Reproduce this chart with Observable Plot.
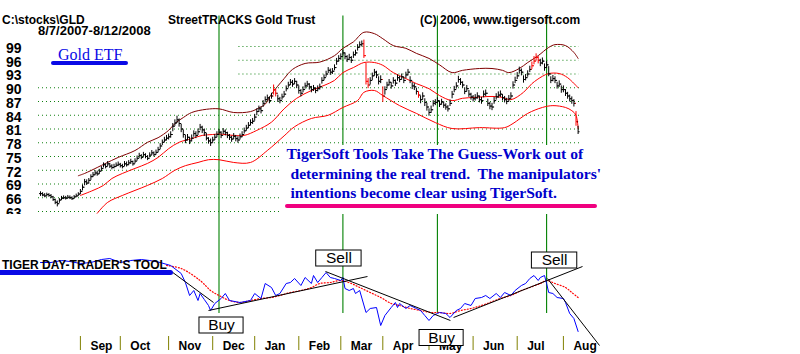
<!DOCTYPE html>
<html><head><meta charset="utf-8">
<script src="https://cdn.jsdelivr.net/npm/d3@7"></script>
<script src="https://cdn.jsdelivr.net/npm/@observablehq/plot@0.6"></script>
<style>
body{margin:0;background:#fff;}
#wrap{position:relative;width:800px;height:354px;overflow:hidden;background:#fff;}
#wrap svg{position:absolute;left:0;top:0;}
.t{position:absolute;white-space:pre;line-height:1;margin:0;}
.sans{font-family:"Liberation Sans",Arial,sans-serif;font-weight:bold;color:#000;font-size:12px;}
.serif{font-family:"Liberation Serif","Times New Roman",serif;}
.box{position:absolute;}
</style></head><body><div id="wrap"></div>
<script>
// ---------- DATA ----------
// trading-day index 0 = 8/7/2007 ... 256 = 8/12/2008
const monthStart = [19,38,61,82,102,123,143,163,185,206,227,249];
const monthNames = ["Sep","Oct","Nov","Dec","Jan","Feb","Mar","Apr","May","Jun","Jul","Aug"];
const yTicks = [63,66,69,72,75,78,81,84,87,90,93,96,99];
const gridPartialRows = [93,96,99];
const signalDays = [85,144,189,241];

const closeByMonth = [
 [66.9,66.6,66.4,66.7,66.5,66.2,65.6,65.0,64.7,65.5,65.9,66.0,65.9,66.1,66.0,65.8,66.2,66.4,66.8],
 [67.4,68.3,69.5,69.2,69.8,70.6,71.0,71.4,71.2,71.8,72.4,73.2,72.8,73.4,72.9,72.6,72.8,73.1,73.3],
 [73.0,72.8,73.4,73.2,73.6,73.9,73.4,74.0,74.6,75.2,74.8,75.4,75.0,74.6,75.3,75.8,75.4,75.9,76.5,77.3,78.1,78.6,79.0],
 [79.3,79.8,81.6,82.3,83.0,82.2,81.0,79.8,78.6,79.2,78.4,79.0,80.0,79.6,80.4,81.4,80.8,80.2,79.0,78.4,78.0],
 [78.6,79.2,79.8,80.3,79.6,80.5,80.2,79.6,79.2,78.8,79.4,78.9,78.6,79.3,79.8,80.6,81.2,81.8,82.4,82.7],
 [83.6,84.8,85.4,85.0,86.6,87.4,87.8,87.2,88.2,89.6,88.8,87.6,87.2,88.0,88.6,89.8,90.6,91.2,90.8,91.4,90.6],
 [89.4,88.8,89.6,90.4,90.8,90.2,89.6,89.9,89.4,89.8,90.2,91.6,92.2,93.0,93.8,93.4,93.6,94.4,95.8,96.4],
 [96.8,97.6,96.8,96.2,96.6,96.0,97.2,97.6,98.8,99.4,99.6,97.0,91.4,90.6,91.6,92.6,93.4,92.8,91.4,91.8],
 [88.2,89.6,90.6,91.2,90.4,91.6,91.0,92.2,91.8,92.4,91.6,92.8,93.4,91.6,90.4,90.2,89.2,88.4,87.4,88.2,86.8,85.8],
 [84.6,85.2,86.6,86.8,87.2,86.4,86.9,86.2,85.8,85.4,86.6,88.6,89.6,90.4,91.8,91.2,90.6,89.2,89.8,88.6,88.0],
 [87.6,87.8,88.2,87.4,87.2,88.6,88.8,86.6,86.0,85.8,87.2,88.0,88.4,88.6,87.8,87.4,87.0,87.6,88.2,90.6,91.6],
 [92.6,93.8,93.4,91.8,92.2,93.0,94.0,94.8,95.8,96.6,96.0,95.4,95.8,94.4,95.0,93.0,91.6,92.0,91.6,90.4,90.8,89.6],
 [89.6,88.8,88.2,87.6,87.2,86.6,82.6,80.4]
];
const highByMonth = [
 [67.3,67.1,66.9,67.0,66.9,66.7,66.3,65.7,65.3,65.8,66.3,66.4,66.3,66.5,66.4,66.2,66.5,66.8,67.1],
 [67.8,68.8,70.0,69.9,70.2,71.0,71.5,71.9,71.8,72.2,72.8,73.6,73.4,73.9,73.5,73.2,73.3,73.6,73.8],
 [73.5,73.3,73.9,73.8,74.1,74.4,74.0,74.5,75.1,75.7,75.4,75.9,75.6,75.2,75.8,76.3,76.0,76.4,77.0,77.8,78.6,79.2,79.6],
 [79.9,80.4,82.2,83.0,83.8,83.2,82.0,80.8,79.6,79.8,79.2,79.7,80.6,80.4,81.0,82.0,81.6,81.0,80.0,79.1,78.8],
 [79.2,79.8,80.4,80.9,80.4,81.1,80.8,80.3,79.8,79.4,80.0,79.6,79.3,79.9,80.4,81.2,81.8,82.4,83.0,83.3],
 [84.2,85.4,86.0,85.8,87.2,88.0,88.4,88.0,88.8,90.6,89.6,88.4,87.9,88.6,89.2,90.4,91.2,91.8,91.6,92.0,91.4],
 [90.4,89.6,90.2,91.0,91.4,90.9,90.3,90.5,90.0,90.4,90.8,92.2,92.8,93.6,94.4,94.1,94.2,95.0,96.4,97.0],
 [97.4,98.2,97.6,97.0,97.3,96.8,97.8,98.2,99.4,100.0,100.2,100.4,95.4,92.0,92.2,93.2,94.0,93.6,92.4,92.6],
 [90.2,90.2,91.2,91.8,91.1,92.2,91.7,92.8,92.5,93.0,92.3,93.4,94.0,92.4,91.1,90.9,89.9,89.1,88.2,88.9,87.6,86.6],
 [85.4,86.0,87.2,87.4,87.8,87.1,87.5,86.9,86.5,86.1,87.3,89.2,90.3,91.1,92.5,92.0,91.3,90.0,90.5,89.4,88.8],
 [88.3,88.5,88.9,88.2,87.9,89.3,89.5,87.5,86.8,86.6,87.9,88.7,89.1,89.3,88.5,88.1,87.7,88.3,88.9,91.3,92.3],
 [93.3,94.5,94.1,92.6,92.9,93.7,94.7,95.6,96.8,97.4,96.8,96.2,96.5,95.2,95.7,94.6,92.4,92.7,92.4,91.2,91.5,90.4],
 [90.4,89.6,89.0,88.4,88.0,87.4,84.8,81.6]
];
const lowByMonth = [
 [66.3,66.2,66.0,66.2,66.1,65.8,65.2,64.5,64.0,64.8,65.4,65.6,65.5,65.7,65.6,65.4,65.7,66.0,66.3],
 [66.7,67.5,68.6,68.7,69.0,69.8,70.4,70.8,70.7,71.1,71.7,72.5,72.3,72.8,72.4,72.1,72.3,72.6,72.8],
 [72.5,72.3,72.8,72.7,73.0,73.3,72.9,73.4,74.0,74.6,74.3,74.8,74.5,74.1,74.7,75.2,74.9,75.3,75.8,76.5,77.4,78.0,78.4],
 [78.6,79.0,80.4,81.6,82.2,81.4,80.2,79.0,77.8,78.4,77.6,78.2,79.2,78.9,79.6,80.6,80.0,79.4,78.4,77.7,77.2],
 [77.9,78.5,79.1,79.6,78.9,79.8,79.5,78.9,78.5,78.1,78.7,78.2,77.9,78.6,79.1,79.9,80.5,81.1,81.7,82.0],
 [82.7,83.9,84.6,84.3,85.7,86.7,87.1,86.5,87.5,88.4,88.0,86.8,86.5,87.3,87.9,89.1,89.9,90.5,90.1,90.7,89.8],
 [88.6,88.0,88.9,89.7,90.1,89.5,88.9,89.2,88.7,89.1,89.5,90.8,91.5,92.3,93.1,92.7,92.9,93.7,94.9,95.6],
 [96.0,96.9,96.1,95.5,95.9,95.3,96.4,96.9,98.0,98.7,98.9,96.4,90.6,89.8,90.6,91.6,92.5,92.0,90.6,90.9],
 [86.8,88.4,89.7,90.4,89.7,90.8,90.3,91.4,91.1,91.7,90.9,92.0,92.6,90.9,89.6,89.4,88.4,87.7,86.5,87.3,85.9,84.9],
 [83.8,84.4,85.8,86.1,86.5,85.7,86.2,85.5,85.1,84.7,85.9,87.6,88.9,89.7,91.0,90.5,89.9,88.5,89.1,87.9,87.3],
 [86.9,87.1,87.5,86.7,86.4,87.8,88.1,85.9,85.2,85.0,86.4,87.3,87.7,87.9,87.1,86.7,86.3,86.9,87.5,89.7,90.9],
 [91.8,93.0,92.6,91.0,91.5,92.3,93.3,94.0,95.0,95.8,95.2,94.6,95.0,93.6,94.2,92.4,90.9,91.3,90.9,89.7,90.1,88.8],
 [88.9,88.1,87.5,86.9,86.4,85.8,81.6,79.8]
];
const redBars = [111,112,154,155,156,163,180,234,235,236,237,255];

const upDay = [18,21,27,31,37,45,51,56,61,64,68,72,79,85,92,100,104,107,110,116,120,126,133,140,144,149,154,159,163,168,174,179,185,190,196,201,209,215,220,223,228,232,237,242,245,250,254,256];
const upVal = [70.8,71.3,72.6,73.5,74.8,76.3,78.1,79.1,80.7,82.2,83.5,84.6,85.3,85.4,84.6,84.8,85.6,86.4,88.6,92.0,94.0,95.3,95.6,97.0,98.6,100.0,102.1,101.8,100.7,99.2,98.6,97.5,96.4,95.0,93.3,93.8,94.2,94.2,93.8,93.3,94.2,95.5,97.0,98.8,99.4,99.2,97.7,96.4];
const midDay = [19,25,30,34,39,45,51,56,61,66,72,77,82,85,92,97,103,110,116,122,129,135,140,144,149,154,159,163,168,174,179,185,190,196,201,207,215,220,224,230,234,239,242,247,251,256];
const midVal = [66.5,67.6,68.7,70.2,71.3,72.4,73.5,74.8,76.7,78.1,78.9,79.6,79.8,79.9,79.6,79.6,80.7,82.5,85.4,87.7,89.4,90.5,91.6,93.3,94.4,95.5,95.5,94.9,93.3,92.0,90.9,89.8,88.3,87.2,87.7,87.9,88.1,87.9,87.4,89.0,90.9,92.5,93.1,93.1,92.2,90.0];
const lowDay = [27,32,39,45,51,58,64,69,75,80,85,92,100,108,116,121,129,137,144,151,154,159,163,171,179,188,196,209,221,225,232,239,244,250,253,255,256];
const lowVal = [62.6,65.0,66.5,67.6,68.7,70.2,72.0,73.0,73.7,74.3,74.3,73.7,73.7,76.3,79.5,81.5,83.3,84.0,85.7,87.2,89.0,89.4,88.3,86.1,84.4,82.4,81.1,81.3,81.3,82.2,84.4,85.7,86.1,85.7,85.0,84.0,81.1];

// Day-trader tool (indicator units)
const blueDay = [0,5,10,14,19,24,29,33,38,43,48,52,57,62,67,69,71,73,75,76,78,80,81,83,86,88,90,95,100,102,105,107,110,112,114,117,119,121,124,126,129,130,132,134,136,138,140,143,144,145,147,149,150,152,155,157,160,162,164,167,169,170,171,174,176,179,181,183,185,187,189,190,193,195,198,200,202,205,207,210,212,214,217,219,221,224,226,229,231,233,235,237,238,240,241,242,244,246,249,250,252,254,256];
const blueVal = [68,68,70,69,67,68,71,72,68,70,71,70,68,65,57,48,35,40,30,37,31,25,20,27,32,37,30,28,30,37,32,47,43,35,37,47,48,52,45,53,47,55,48,53,58,53,52,50,53,42,40,42,37,40,18,22,23,5,15,23,28,23,27,22,25,22,20,15,10,15,17,18,17,13,20,22,27,25,32,33,35,32,37,33,38,35,40,45,47,52,55,50,53,55,47,38,37,33,32,28,17,12,-1];
const maDay = [60,67,76,81,85,90,95,100,105,110,114,119,124,129,133,138,143,148,152,157,162,167,171,176,181,186,190,195,200,205,210,214,219,224,229,233,238,241,245,250,253,256];
const maVal = [65,62,50,40,35,30,28,30,32,33,35,38,40,43,47,48,50,47,43,38,33,27,25,22,20,18,18,17,20,22,25,28,32,35,40,43,47,50,47,43,38,33];
const trendDay1 = [63,80,135.7,196.7,241.4];
const trendVal1 = [58,20,59,13,52];
const trendDay2 = [82.4,155.7,195.2,258.1,266.2];
const trendVal2 = [28,54,10,64,-15];
const sigLabel = ["Buy","Sell","Buy","Sell"];
const sigDay = [86.2,142.1,191,244.8];
const sigVal = [5,72,-7.5,70];

// ---------- build tables ----------
const cl = closeByMonth.flat(), hi = highByMonth.flat(), lo = lowByMonth.flat();
const bars = cl.map((c, i) => ({i, cl: c, hi: hi[i], lo: lo[i], op: i ? cl[i-1] : c, red: redBars.includes(i)}));
const band = (d, v) => d.map((x, k) => ({d: x, v: v[k]}));
const upper = band(upDay, upVal), middle = band(midDay, midVal), lower = band(lowDay, lowVal);
const blue = band(blueDay, blueVal), ma = band(maDay, maVal);
const trends = trendDay1.map((x, k) => ({x1: x, y1: trendVal1[k], x2: trendDay2[k], y2: trendVal2[k]}));
const sigs = sigLabel.map((t, k) => ({t, d: sigDay[k], v: sigVal[k], hw: t === "Sell" ? 10.8 : 10.5}));

const xScale = {domain: [0, 256], range: [40, 577.6], axis: null};
const font = "'Liberation Sans', Arial, sans-serif";

const plotA = Plot.plot({
  width: 800, height: 354,
  marginTop: 15.5, marginBottom: 41, marginLeft: 38, marginRight: 221,
  x: xScale,
  y: {domain: [63, 99], range: [211, 46], axis: null},
  style: {background: "transparent", fontFamily: font, fontWeight: "bold", fontSize: "14px", overflow: "visible"},
  marks: [
    Plot.ruleY(yTicks.filter(t => !gridPartialRows.includes(t)), {stroke: "#108010", strokeDasharray: "1,3"}),
    Plot.ruleY(gridPartialRows, {x1: 94.5, x2: 256.5, stroke: "#108010", strokeDasharray: "1,3"}),
    Plot.ruleX(signalDays, {stroke: "#008000", strokeWidth: 1.1}),
    Plot.line(upper, {x: "d", y: "v", stroke: "#800000", strokeWidth: 1, curve: "catmull-rom"}),
    Plot.line(middle, {x: "d", y: "v", stroke: "#ff0000", strokeWidth: 1, curve: "catmull-rom"}),
    Plot.line(lower, {x: "d", y: "v", stroke: "#ff0000", strokeWidth: 1, curve: "catmull-rom"}),
    Plot.ruleX(bars, {x: "i", y1: "lo", y2: "hi", stroke: d => d.red ? "#ff0000" : "#000000", strokeWidth: 1}),
    Plot.link(bars, {x1: d => d.i - 0.7, x2: "i", y1: "op", y2: "op", stroke: d => d.red ? "#ff0000" : "#000000"}),
    Plot.link(bars, {x1: "i", x2: d => d.i + 0.7, y1: "cl", y2: "cl", stroke: d => d.red ? "#ff0000" : "#000000"}),
    Plot.text(yTicks, {y: d => d, frameAnchor: "left", dx: -17, dy: 2, textAnchor: "end", fontSize: 14, fontWeight: "bold", fill: "#000"})
  ]
});

const plotB = Plot.plot({
  width: 800, height: 354,
  marginTop: 336, marginBottom: 4, marginLeft: 0, marginRight: 0,
  x: xScale,
  y: {domain: [0, 80], range: [330, 250], axis: null},
  style: {background: "transparent", fontFamily: font, fontWeight: "bold", fontSize: "12px", overflow: "visible"},
  marks: [
    Plot.ruleX(monthStart, {stroke: "#808000", strokeWidth: 1}),
    Plot.text(monthStart, {x: d => d, text: (d, i) => monthNames[i], frameAnchor: "middle", textAnchor: "start", dx: 10, dy: 3, fontSize: 12, fontWeight: "bold", fill: "#000"}),
    Plot.line(ma, {x: "d", y: "v", stroke: "#ff0000", strokeWidth: 1.2, strokeDasharray: "1,2", curve: "catmull-rom"}),
    Plot.line(blue, {x: "d", y: "v", stroke: "#0000ff", strokeWidth: 1}),
    Plot.link(trends, {x1: "x1", y1: "y1", x2: "x2", y2: "y2", stroke: "#000", strokeWidth: 1}),
    Plot.rect(sigs, {x1: d => d.d - d.hw, x2: d => d.d + d.hw, y1: d => d.v - 8, y2: d => d.v + 8, fill: "#fff", stroke: "#000", strokeWidth: 1}),
    Plot.text(sigs, {x: "d", y: "v", text: "t", fontSize: 15.5, fontWeight: "normal", fill: "#000"})
  ]
});

const wrap = document.getElementById("wrap");
wrap.appendChild(plotA);
wrap.appendChild(plotB);

// ---------- annotations (text kept as real text) ----------
function addDiv(cls, text, css) {
  const el = document.createElement("div");
  el.className = cls;
  if (text != null) el.textContent = text;
  Object.assign(el.style, css);
  wrap.appendChild(el);
  return el;
}
addDiv("box", null, {left: "280px", top: "145px", width: "320px", height: "69px", background: "#fff"});
addDiv("box", null, {left: "0px", top: "213.5px", width: "36px", height: "12px", background: "#fff"});
addDiv("t sans", "C:\\stocks\\GLD", {left: "2px", top: "15.8px", lineHeight: "9.6px"});
addDiv("t sans", "StreetTRACKS Gold Trust", {left: "168px", top: "15.8px", lineHeight: "9.6px"});
addDiv("t sans", "(C) 2006, www.tigersoft.com", {left: "420px", top: "15.8px", lineHeight: "9.6px"});
addDiv("t sans", "8/7/2007-8/12/2008", {left: "38px", top: "26px", fontSize: "13px", lineHeight: "10.4px"});
addDiv("t serif", "Gold ETF", {left: "58px", top: "46.6px", fontSize: "16px", color: "#0a0ae6"});
addDiv("box", null, {left: "51px", top: "61px", width: "77px", height: "4px", background: "#0a0ae6", borderRadius: "2px"});
addDiv("t serif", "TigerSoft Tools Take The Guess-Work out of", {left: "286.5px", top: "146.4px", fontSize: "15.6px", fontWeight: "bold", color: "#0000cc"});
addDiv("t serif", "determining the real trend.  The manipulators'", {left: "290.5px", top: "165.9px", fontSize: "15.6px", fontWeight: "bold", color: "#0000cc"});
addDiv("t serif", "intentions become clear using TigerSoft.", {left: "290.5px", top: "184.6px", fontSize: "15.6px", fontWeight: "bold", color: "#0000cc"});
addDiv("box", null, {left: "285px", top: "203.8px", width: "312px", height: "4.5px", background: "#f0007f", borderRadius: "2.5px"});
addDiv("t sans", "TIGER DAY-TRADER'S TOOL", {left: "2px", top: "259px", textDecoration: "underline"});
addDiv("box", null, {left: "0px", top: "270px", width: "173px", height: "5px", background: "#0a0ae6", borderRadius: "0 3px 3px 0"});
</script></body></html>
